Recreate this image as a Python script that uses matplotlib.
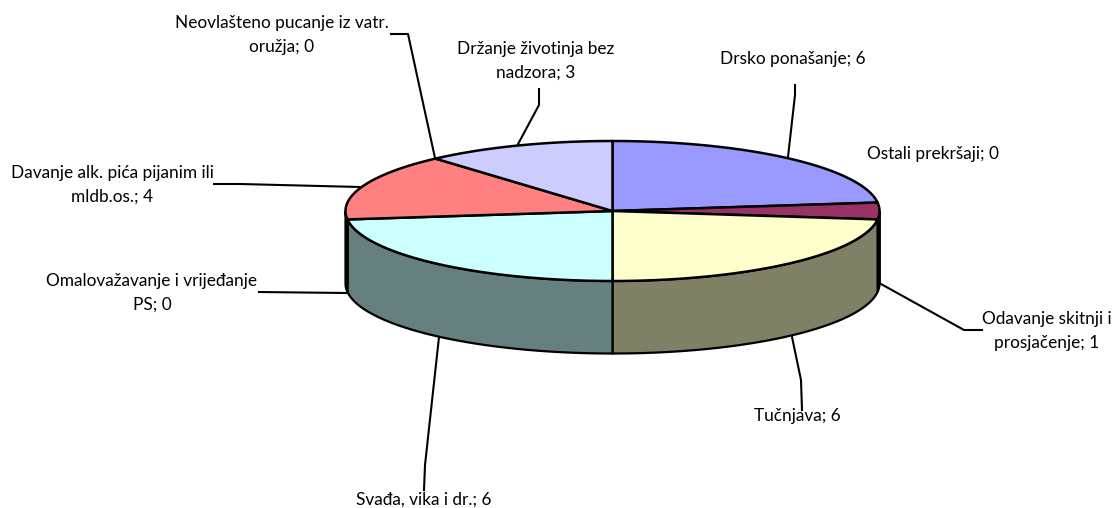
import numpy as np
import matplotlib
matplotlib.use('Agg')
import matplotlib.pyplot as plt
from matplotlib.patches import Polygon

# slices, clockwise from 12 o'clock
labels = ['Drsko ponašanje', 'Ostali prekršaji', 'Odavanje skitnji i\nprosjačenje', 'Tučnjava',
          'Svađa, vika i dr.', 'Omalovažavanje i vrijeđanje\nPS', 'Davanje alk. pića pijanim ili\nmldb.os.',
          'Neovlašteno pucanje iz vatr.\noružja', 'Držanje životinja bez\nnadzora']
values = [6, 0, 1, 6, 6, 0, 4, 0, 3]
top_colors = ['#9999FF', '#660066', '#993366', '#FFFFCC', '#CCFFFF', '#CCFFFF', '#FF8080', '#FF8080', '#CCCCFF']
side_colors = ['#4D4D80', '#330033', '#4D1A33', '#808066', '#668080', '#668080', '#804040', '#804040', '#666680']

# pie geometry, in pixels of the picture
cx, cy = 612.5, 211
rx, ry = 267, 70
depth = 72.5

# where the label text goes and the leader line that comes to it
label_pos = [(793, 59), (933, 154), (1047, 331), (797, 416), (424, 500), (152, 293), (112, 185), (282, 35), (536, 61)]
leaders = [
    [(795, 85), (795, 95), (788, 157)],
    None,
    [(982, 330), (964, 330), (881, 284)],
    [(802, 410), (801, 380), (792, 337)],
    [(424, 490), (425, 465), (439, 337)],
    [(259, 292), (346, 293)],
    [(214, 184), (240, 184), (360, 187)],
    [(391, 34), (408, 34), (435, 158)],
    [(539, 89), (539, 105), (517, 146)],
]


def ellipse_xy(angles, dy=0):
    """Points on the rim, angles in degrees clockwise from the top."""
    a = np.radians(angles)
    return cx + rx * np.sin(a), cy - ry * np.cos(a) + dy


fig = plt.figure(figsize=(11.12, 5.08), dpi=100)
ax = fig.add_axes([0, 0, 1, 1])
ax.set_xlim(0, 1112)
ax.set_ylim(508, 0)
ax.axis('off')

edges = np.cumsum([0] + values) * 360.0 / sum(values)

# walls first, only the front half of the pie can be seen
for i in range(len(values)):
    a0, a1 = max(edges[i], 90), min(edges[i + 1], 270)
    if a1 <= a0:
        continue
    t = np.linspace(a0, a1, 80)
    x, y = ellipse_xy(t)
    x2, y2 = ellipse_xy(t[::-1], depth)
    pts = np.column_stack([np.r_[x, x2], np.r_[y, y2]])
    ax.add_patch(Polygon(pts, closed=True, facecolor=side_colors[i], edgecolor='black', linewidth=1.6, zorder=2))

# heavier lines on both sides of the wall
ax.plot([cx + rx - 1, cx + rx - 1], [cy, cy + depth], color='black', linewidth=2.6, zorder=3, solid_capstyle='butt')
ax.plot([cx - rx + 1, cx - rx + 1], [cy, cy + depth], color='black', linewidth=2.6, zorder=3, solid_capstyle='butt')

# top of the pie
for i in range(len(values)):
    if values[i] == 0:
        continue
    t = np.linspace(edges[i], edges[i + 1], 120)
    x, y = ellipse_xy(t)
    pts = np.column_stack([np.r_[cx, x], np.r_[cy, y]])
    ax.add_patch(Polygon(pts, closed=True, facecolor=top_colors[i], edgecolor='black', linewidth=1.8,
                         joinstyle='round', zorder=4))

# leader lines and labels
for i in range(len(values)):
    if leaders[i] is not None:
        lx, ly = zip(*leaders[i])
        ax.plot(lx, ly, color='black', linewidth=1.5, zorder=1)
    ax.text(label_pos[i][0], label_pos[i][1], f"{labels[i]}; {values[i]}", ha='center', va='center',
            multialignment='center', fontsize=12.4, family='Lato', color='black', linespacing=1.58, zorder=5)

plt.savefig('out.png', dpi=100)
